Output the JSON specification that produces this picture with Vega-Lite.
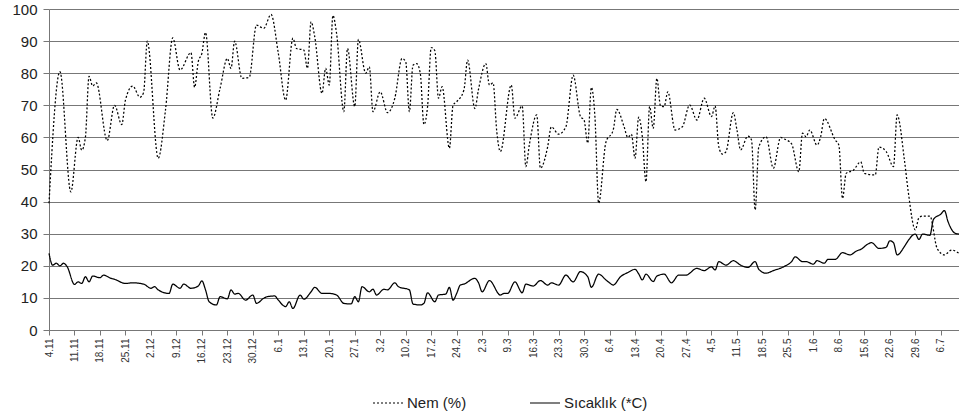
{
"$schema": "https://vega.github.io/schema/vega-lite/v6.json",
"width": 910, "height": 321,
"autosize": {"type": "none"},
"padding": {"left": 49, "top": 9, "right": 0, "bottom": 84},
"background": "white",
"config": {"view": {"stroke": null}, "font": "Liberation Sans"},
"data": {"values": [
{"s":"Nem (%)","d":"2007-11-04","v":39.5},{"s":"Nem (%)","d":"2007-11-07","v":80.5},{"s":"Nem (%)","d":"2007-11-10","v":43},{"s":"Nem (%)","d":"2007-11-12","v":60},{"s":"Nem (%)","d":"2007-11-13","v":56},{"s":"Nem (%)","d":"2007-11-14","v":60},{"s":"Nem (%)","d":"2007-11-15","v":79},{"s":"Nem (%)","d":"2007-11-16","v":76},{"s":"Nem (%)","d":"2007-11-17","v":77},{"s":"Nem (%)","d":"2007-11-20","v":59},{"s":"Nem (%)","d":"2007-11-22","v":70},{"s":"Nem (%)","d":"2007-11-24","v":64},{"s":"Nem (%)","d":"2007-11-25","v":71.6},{"s":"Nem (%)","d":"2007-11-27","v":76},{"s":"Nem (%)","d":"2007-11-29","v":72.5},{"s":"Nem (%)","d":"2007-11-30","v":74},
{"s":"Nem (%)","d":"2007-12-01","v":90},{"s":"Nem (%)","d":"2007-12-04","v":53.5},{"s":"Nem (%)","d":"2007-12-06","v":68.5},{"s":"Nem (%)","d":"2007-12-08","v":91},{"s":"Nem (%)","d":"2007-12-10","v":81},{"s":"Nem (%)","d":"2007-12-13","v":86.4},{"s":"Nem (%)","d":"2007-12-14","v":75.6},{"s":"Nem (%)","d":"2007-12-15","v":83.6},{"s":"Nem (%)","d":"2007-12-16","v":86.2},{"s":"Nem (%)","d":"2007-12-17","v":92.7},{"s":"Nem (%)","d":"2007-12-19","v":66},{"s":"Nem (%)","d":"2007-12-21","v":75.3},{"s":"Nem (%)","d":"2007-12-23","v":84.6},{"s":"Nem (%)","d":"2007-12-24","v":81.5},{"s":"Nem (%)","d":"2007-12-25","v":90},{"s":"Nem (%)","d":"2007-12-27","v":78.4},{"s":"Nem (%)","d":"2007-12-29","v":78.7},{"s":"Nem (%)","d":"2007-12-31","v":95},
{"s":"Nem (%)","d":"2008-01-02","v":94},{"s":"Nem (%)","d":"2008-01-04","v":98.3},{"s":"Nem (%)","d":"2008-01-06","v":86.2},{"s":"Nem (%)","d":"2008-01-08","v":71.6},{"s":"Nem (%)","d":"2008-01-10","v":90.9},{"s":"Nem (%)","d":"2008-01-11","v":87.7},{"s":"Nem (%)","d":"2008-01-13","v":87.2},{"s":"Nem (%)","d":"2008-01-14","v":81.5},{"s":"Nem (%)","d":"2008-01-15","v":96},{"s":"Nem (%)","d":"2008-01-16","v":91.4},{"s":"Nem (%)","d":"2008-01-18","v":73.7},{"s":"Nem (%)","d":"2008-01-19","v":81.5},{"s":"Nem (%)","d":"2008-01-20","v":76.3},{"s":"Nem (%)","d":"2008-01-21","v":98},{"s":"Nem (%)","d":"2008-01-22","v":92.4},{"s":"Nem (%)","d":"2008-01-24","v":68},{"s":"Nem (%)","d":"2008-01-25","v":87.7},{"s":"Nem (%)","d":"2008-01-27","v":69.6},{"s":"Nem (%)","d":"2008-01-28","v":90.5},{"s":"Nem (%)","d":"2008-01-30","v":80},{"s":"Nem (%)","d":"2008-01-31","v":82},
{"s":"Nem (%)","d":"2008-02-01","v":68},{"s":"Nem (%)","d":"2008-02-03","v":74.2},{"s":"Nem (%)","d":"2008-02-05","v":67.7},{"s":"Nem (%)","d":"2008-02-07","v":72.2},{"s":"Nem (%)","d":"2008-02-09","v":84.6},{"s":"Nem (%)","d":"2008-02-10","v":83.6},{"s":"Nem (%)","d":"2008-02-11","v":68},{"s":"Nem (%)","d":"2008-02-12","v":82.5},{"s":"Nem (%)","d":"2008-02-13","v":83},{"s":"Nem (%)","d":"2008-02-14","v":80},{"s":"Nem (%)","d":"2008-02-15","v":64},{"s":"Nem (%)","d":"2008-02-16","v":69.6},{"s":"Nem (%)","d":"2008-02-17","v":88},{"s":"Nem (%)","d":"2008-02-18","v":87},{"s":"Nem (%)","d":"2008-02-19","v":72.2},{"s":"Nem (%)","d":"2008-02-20","v":75.8},{"s":"Nem (%)","d":"2008-02-22","v":56.6},{"s":"Nem (%)","d":"2008-02-23","v":70},{"s":"Nem (%)","d":"2008-02-24","v":71.1},{"s":"Nem (%)","d":"2008-02-26","v":74.8},{"s":"Nem (%)","d":"2008-02-27","v":84.1},{"s":"Nem (%)","d":"2008-02-29","v":69},
{"s":"Nem (%)","d":"2008-03-01","v":75},{"s":"Nem (%)","d":"2008-03-03","v":83},{"s":"Nem (%)","d":"2008-03-04","v":76.3},{"s":"Nem (%)","d":"2008-03-05","v":77},{"s":"Nem (%)","d":"2008-03-06","v":62},{"s":"Nem (%)","d":"2008-03-07","v":55.6},{"s":"Nem (%)","d":"2008-03-10","v":76.3},{"s":"Nem (%)","d":"2008-03-11","v":66},{"s":"Nem (%)","d":"2008-03-13","v":69.8},{"s":"Nem (%)","d":"2008-03-14","v":50.9},{"s":"Nem (%)","d":"2008-03-15","v":58},{"s":"Nem (%)","d":"2008-03-17","v":67},{"s":"Nem (%)","d":"2008-03-18","v":50.4},{"s":"Nem (%)","d":"2008-03-20","v":57.1},{"s":"Nem (%)","d":"2008-03-21","v":63.3},{"s":"Nem (%)","d":"2008-03-23","v":61},{"s":"Nem (%)","d":"2008-03-25","v":63.3},{"s":"Nem (%)","d":"2008-03-27","v":79.4},{"s":"Nem (%)","d":"2008-03-29","v":66.5},{"s":"Nem (%)","d":"2008-03-30","v":65.4},{"s":"Nem (%)","d":"2008-03-31","v":58.2},
{"s":"Nem (%)","d":"2008-04-01","v":75.6},{"s":"Nem (%)","d":"2008-04-02","v":66},{"s":"Nem (%)","d":"2008-04-03","v":39.5},{"s":"Nem (%)","d":"2008-04-05","v":58.5},{"s":"Nem (%)","d":"2008-04-07","v":62.3},{"s":"Nem (%)","d":"2008-04-08","v":68.7},{"s":"Nem (%)","d":"2008-04-10","v":63.3},{"s":"Nem (%)","d":"2008-04-11","v":60},{"s":"Nem (%)","d":"2008-04-12","v":61},{"s":"Nem (%)","d":"2008-04-13","v":53.5},{"s":"Nem (%)","d":"2008-04-14","v":66.3},{"s":"Nem (%)","d":"2008-04-15","v":60.2},{"s":"Nem (%)","d":"2008-04-16","v":46.2},{"s":"Nem (%)","d":"2008-04-17","v":69.6},{"s":"Nem (%)","d":"2008-04-18","v":62.8},{"s":"Nem (%)","d":"2008-04-19","v":78.4},{"s":"Nem (%)","d":"2008-04-20","v":69.8},{"s":"Nem (%)","d":"2008-04-21","v":69.6},{"s":"Nem (%)","d":"2008-04-22","v":74.2},{"s":"Nem (%)","d":"2008-04-24","v":62.3},{"s":"Nem (%)","d":"2008-04-26","v":63.3},{"s":"Nem (%)","d":"2008-04-28","v":70.1},{"s":"Nem (%)","d":"2008-04-30","v":65.4},
{"s":"Nem (%)","d":"2008-05-02","v":72.2},{"s":"Nem (%)","d":"2008-05-04","v":66.5},{"s":"Nem (%)","d":"2008-05-05","v":69.8},{"s":"Nem (%)","d":"2008-05-06","v":57.1},{"s":"Nem (%)","d":"2008-05-07","v":54.8},{"s":"Nem (%)","d":"2008-05-08","v":55.6},{"s":"Nem (%)","d":"2008-05-10","v":67.7},{"s":"Nem (%)","d":"2008-05-11","v":62.3},{"s":"Nem (%)","d":"2008-05-12","v":56.1},{"s":"Nem (%)","d":"2008-05-14","v":60.4},{"s":"Nem (%)","d":"2008-05-15","v":59.2},{"s":"Nem (%)","d":"2008-05-16","v":37.4},{"s":"Nem (%)","d":"2008-05-17","v":57.1},{"s":"Nem (%)","d":"2008-05-19","v":60.2},{"s":"Nem (%)","d":"2008-05-21","v":50.4},{"s":"Nem (%)","d":"2008-05-23","v":60},{"s":"Nem (%)","d":"2008-05-24","v":59.5},{"s":"Nem (%)","d":"2008-05-26","v":58},{"s":"Nem (%)","d":"2008-05-28","v":49.3},{"s":"Nem (%)","d":"2008-05-29","v":61.3},{"s":"Nem (%)","d":"2008-05-30","v":60.2},{"s":"Nem (%)","d":"2008-05-31","v":62.3},
{"s":"Nem (%)","d":"2008-06-02","v":57.6},{"s":"Nem (%)","d":"2008-06-03","v":60.2},{"s":"Nem (%)","d":"2008-06-04","v":65.9},{"s":"Nem (%)","d":"2008-06-07","v":59.2},{"s":"Nem (%)","d":"2008-06-08","v":57.6},{"s":"Nem (%)","d":"2008-06-09","v":41},{"s":"Nem (%)","d":"2008-06-10","v":48.8},{"s":"Nem (%)","d":"2008-06-12","v":49.8},{"s":"Nem (%)","d":"2008-06-14","v":52.4},{"s":"Nem (%)","d":"2008-06-15","v":48.8},{"s":"Nem (%)","d":"2008-06-18","v":48.3},{"s":"Nem (%)","d":"2008-06-19","v":57},{"s":"Nem (%)","d":"2008-06-21","v":55.6},{"s":"Nem (%)","d":"2008-06-23","v":50.9},{"s":"Nem (%)","d":"2008-06-24","v":67},{"s":"Nem (%)","d":"2008-06-26","v":53},{"s":"Nem (%)","d":"2008-06-27","v":43.6},{"s":"Nem (%)","d":"2008-06-29","v":31.2},{"s":"Nem (%)","d":"2008-06-30","v":35},
{"s":"Nem (%)","d":"2008-07-01","v":35.5},{"s":"Nem (%)","d":"2008-07-03","v":35.5},{"s":"Nem (%)","d":"2008-07-05","v":25.4},{"s":"Nem (%)","d":"2008-07-07","v":23.4},{"s":"Nem (%)","d":"2008-07-09","v":24.9},{"s":"Nem (%)","d":"2008-07-11","v":23.9},
{"s":"Sıcaklık (*C)","d":"2007-11-04","v":23.9},{"s":"Sıcaklık (*C)","d":"2007-11-05","v":20.2},{"s":"Sıcaklık (*C)","d":"2007-11-06","v":20.8},{"s":"Sıcaklık (*C)","d":"2007-11-07","v":20},{"s":"Sıcaklık (*C)","d":"2007-11-08","v":20.8},{"s":"Sıcaklık (*C)","d":"2007-11-09","v":19.7},{"s":"Sıcaklık (*C)","d":"2007-11-11","v":14.2},{"s":"Sıcaklık (*C)","d":"2007-11-12","v":15},{"s":"Sıcaklık (*C)","d":"2007-11-13","v":14.5},{"s":"Sıcaklık (*C)","d":"2007-11-14","v":16.6},{"s":"Sıcaklık (*C)","d":"2007-11-15","v":15},{"s":"Sıcaklık (*C)","d":"2007-11-16","v":16.8},{"s":"Sıcaklık (*C)","d":"2007-11-18","v":16.3},{"s":"Sıcaklık (*C)","d":"2007-11-19","v":17.1},{"s":"Sıcaklık (*C)","d":"2007-11-21","v":16.1},{"s":"Sıcaklık (*C)","d":"2007-11-22","v":15.8},{"s":"Sıcaklık (*C)","d":"2007-11-25","v":14.5},{"s":"Sıcaklık (*C)","d":"2007-11-27","v":14.7},{"s":"Sıcaklık (*C)","d":"2007-11-30","v":14.3},
{"s":"Sıcaklık (*C)","d":"2007-12-02","v":13},{"s":"Sıcaklık (*C)","d":"2007-12-03","v":13.5},{"s":"Sıcaklık (*C)","d":"2007-12-04","v":12.5},{"s":"Sıcaklık (*C)","d":"2007-12-07","v":11.4},{"s":"Sıcaklık (*C)","d":"2007-12-08","v":14.3},{"s":"Sıcaklık (*C)","d":"2007-12-10","v":13},{"s":"Sıcaklık (*C)","d":"2007-12-11","v":14.3},{"s":"Sıcaklık (*C)","d":"2007-12-13","v":13},{"s":"Sıcaklık (*C)","d":"2007-12-15","v":13.7},{"s":"Sıcaklık (*C)","d":"2007-12-16","v":15.3},{"s":"Sıcaklık (*C)","d":"2007-12-17","v":12.5},{"s":"Sıcaklık (*C)","d":"2007-12-18","v":8.8},{"s":"Sıcaklık (*C)","d":"2007-12-20","v":7.8},{"s":"Sıcaklık (*C)","d":"2007-12-21","v":10.4},{"s":"Sıcaklık (*C)","d":"2007-12-23","v":9.7},{"s":"Sıcaklık (*C)","d":"2007-12-24","v":12.5},{"s":"Sıcaklık (*C)","d":"2007-12-25","v":11.2},{"s":"Sıcaklık (*C)","d":"2007-12-26","v":11.4},{"s":"Sıcaklık (*C)","d":"2007-12-28","v":9.3},{"s":"Sıcaklık (*C)","d":"2007-12-30","v":10.9},{"s":"Sıcaklık (*C)","d":"2007-12-31","v":8.3},
{"s":"Sıcaklık (*C)","d":"2008-01-02","v":9.9},{"s":"Sıcaklık (*C)","d":"2008-01-03","v":10.4},{"s":"Sıcaklık (*C)","d":"2008-01-05","v":10.6},{"s":"Sıcaklık (*C)","d":"2008-01-06","v":9.3},{"s":"Sıcaklık (*C)","d":"2008-01-08","v":7.3},{"s":"Sıcaklık (*C)","d":"2008-01-09","v":8.8},{"s":"Sıcaklık (*C)","d":"2008-01-10","v":6.7},{"s":"Sıcaklık (*C)","d":"2008-01-12","v":10.9},{"s":"Sıcaklık (*C)","d":"2008-01-13","v":9.6},{"s":"Sıcaklık (*C)","d":"2008-01-15","v":11.9},{"s":"Sıcaklık (*C)","d":"2008-01-16","v":13.3},{"s":"Sıcaklık (*C)","d":"2008-01-18","v":11.4},{"s":"Sıcaklık (*C)","d":"2008-01-20","v":11.4},{"s":"Sıcaklık (*C)","d":"2008-01-22","v":10.9},{"s":"Sıcaklık (*C)","d":"2008-01-24","v":8.3},{"s":"Sıcaklık (*C)","d":"2008-01-26","v":8.1},{"s":"Sıcaklık (*C)","d":"2008-01-27","v":10.4},{"s":"Sıcaklık (*C)","d":"2008-01-28","v":8.8},{"s":"Sıcaklık (*C)","d":"2008-01-29","v":13.5},{"s":"Sıcaklık (*C)","d":"2008-01-31","v":11.9},
{"s":"Sıcaklık (*C)","d":"2008-02-01","v":12.7},{"s":"Sıcaklık (*C)","d":"2008-02-02","v":10.9},{"s":"Sıcaklık (*C)","d":"2008-02-04","v":12.7},{"s":"Sıcaklık (*C)","d":"2008-02-05","v":12.5},{"s":"Sıcaklık (*C)","d":"2008-02-07","v":14.7},{"s":"Sıcaklık (*C)","d":"2008-02-08","v":13.5},{"s":"Sıcaklık (*C)","d":"2008-02-11","v":12.5},{"s":"Sıcaklık (*C)","d":"2008-02-12","v":8.1},{"s":"Sıcaklık (*C)","d":"2008-02-14","v":7.8},{"s":"Sıcaklık (*C)","d":"2008-02-15","v":8.3},{"s":"Sıcaklık (*C)","d":"2008-02-16","v":11.6},{"s":"Sıcaklık (*C)","d":"2008-02-18","v":8.8},{"s":"Sıcaklık (*C)","d":"2008-02-19","v":10.9},{"s":"Sıcaklık (*C)","d":"2008-02-21","v":11.2},{"s":"Sıcaklık (*C)","d":"2008-02-22","v":13.3},{"s":"Sıcaklık (*C)","d":"2008-02-23","v":9.3},{"s":"Sıcaklık (*C)","d":"2008-02-24","v":11.4},{"s":"Sıcaklık (*C)","d":"2008-02-25","v":14},{"s":"Sıcaklık (*C)","d":"2008-02-26","v":14.3},{"s":"Sıcaklık (*C)","d":"2008-02-29","v":16.1},
{"s":"Sıcaklık (*C)","d":"2008-03-01","v":14.7},{"s":"Sıcaklık (*C)","d":"2008-03-02","v":11.9},{"s":"Sıcaklık (*C)","d":"2008-03-04","v":15.4},{"s":"Sıcaklık (*C)","d":"2008-03-07","v":10.9},{"s":"Sıcaklık (*C)","d":"2008-03-08","v":11.4},{"s":"Sıcaklık (*C)","d":"2008-03-09","v":11.4},{"s":"Sıcaklık (*C)","d":"2008-03-11","v":15},{"s":"Sıcaklık (*C)","d":"2008-03-13","v":11.6},{"s":"Sıcaklık (*C)","d":"2008-03-14","v":14.3},{"s":"Sıcaklık (*C)","d":"2008-03-16","v":13.7},{"s":"Sıcaklık (*C)","d":"2008-03-18","v":15.4},{"s":"Sıcaklık (*C)","d":"2008-03-20","v":14},{"s":"Sıcaklık (*C)","d":"2008-03-21","v":14.7},{"s":"Sıcaklık (*C)","d":"2008-03-23","v":14},{"s":"Sıcaklık (*C)","d":"2008-03-25","v":17.1},{"s":"Sıcaklık (*C)","d":"2008-03-27","v":15},{"s":"Sıcaklık (*C)","d":"2008-03-29","v":18.2},{"s":"Sıcaklık (*C)","d":"2008-03-31","v":16.6},
{"s":"Sıcaklık (*C)","d":"2008-04-01","v":13.3},{"s":"Sıcaklık (*C)","d":"2008-04-03","v":17.4},{"s":"Sıcaklık (*C)","d":"2008-04-05","v":15.6},{"s":"Sıcaklık (*C)","d":"2008-04-06","v":14.7},{"s":"Sıcaklık (*C)","d":"2008-04-07","v":14},{"s":"Sıcaklık (*C)","d":"2008-04-09","v":16.6},{"s":"Sıcaklık (*C)","d":"2008-04-11","v":17.9},{"s":"Sıcaklık (*C)","d":"2008-04-13","v":18.9},{"s":"Sıcaklık (*C)","d":"2008-04-14","v":17.5},{"s":"Sıcaklık (*C)","d":"2008-04-15","v":15.6},{"s":"Sıcaklık (*C)","d":"2008-04-16","v":17.4},{"s":"Sıcaklık (*C)","d":"2008-04-18","v":15.1},{"s":"Sıcaklık (*C)","d":"2008-04-19","v":16.8},{"s":"Sıcaklık (*C)","d":"2008-04-21","v":17.4},{"s":"Sıcaklık (*C)","d":"2008-04-23","v":14.7},{"s":"Sıcaklık (*C)","d":"2008-04-25","v":17.1},{"s":"Sıcaklık (*C)","d":"2008-04-27","v":17.1},{"s":"Sıcaklık (*C)","d":"2008-04-30","v":19.2},
{"s":"Sıcaklık (*C)","d":"2008-05-02","v":18.5},{"s":"Sıcaklık (*C)","d":"2008-05-04","v":19.7},{"s":"Sıcaklık (*C)","d":"2008-05-05","v":18.7},{"s":"Sıcaklık (*C)","d":"2008-05-06","v":21.3},{"s":"Sıcaklık (*C)","d":"2008-05-08","v":20.2},{"s":"Sıcaklık (*C)","d":"2008-05-10","v":21.6},{"s":"Sıcaklık (*C)","d":"2008-05-12","v":20.2},{"s":"Sıcaklık (*C)","d":"2008-05-14","v":19.5},{"s":"Sıcaklık (*C)","d":"2008-05-16","v":21.3},{"s":"Sıcaklık (*C)","d":"2008-05-17","v":18.9},{"s":"Sıcaklık (*C)","d":"2008-05-19","v":17.7},{"s":"Sıcaklık (*C)","d":"2008-05-21","v":18.5},{"s":"Sıcaklık (*C)","d":"2008-05-24","v":19.8},{"s":"Sıcaklık (*C)","d":"2008-05-26","v":21.3},{"s":"Sıcaklık (*C)","d":"2008-05-27","v":22.8},{"s":"Sıcaklık (*C)","d":"2008-05-29","v":21.3},{"s":"Sıcaklık (*C)","d":"2008-05-30","v":21.3},
{"s":"Sıcaklık (*C)","d":"2008-06-01","v":20.5},{"s":"Sıcaklık (*C)","d":"2008-06-02","v":21.6},{"s":"Sıcaklık (*C)","d":"2008-06-04","v":20.8},{"s":"Sıcaklık (*C)","d":"2008-06-05","v":22},{"s":"Sıcaklık (*C)","d":"2008-06-07","v":22},{"s":"Sıcaklık (*C)","d":"2008-06-09","v":24.1},{"s":"Sıcaklık (*C)","d":"2008-06-11","v":23.4},{"s":"Sıcaklık (*C)","d":"2008-06-13","v":24.7},{"s":"Sıcaklık (*C)","d":"2008-06-14","v":25.1},{"s":"Sıcaklık (*C)","d":"2008-06-16","v":26.8},{"s":"Sıcaklık (*C)","d":"2008-06-17","v":27.2},{"s":"Sıcaklık (*C)","d":"2008-06-19","v":25.4},{"s":"Sıcaklık (*C)","d":"2008-06-21","v":25.8},{"s":"Sıcaklık (*C)","d":"2008-06-22","v":27.8},{"s":"Sıcaklık (*C)","d":"2008-06-23","v":27.2},{"s":"Sıcaklık (*C)","d":"2008-06-24","v":23.4},{"s":"Sıcaklık (*C)","d":"2008-06-26","v":26},{"s":"Sıcaklık (*C)","d":"2008-06-27","v":27.8},{"s":"Sıcaklık (*C)","d":"2008-06-29","v":29.9},{"s":"Sıcaklık (*C)","d":"2008-06-30","v":28.2},
{"s":"Sıcaklık (*C)","d":"2008-07-01","v":29.9},{"s":"Sıcaklık (*C)","d":"2008-07-03","v":29.5},{"s":"Sıcaklık (*C)","d":"2008-07-04","v":34.5},{"s":"Sıcaklık (*C)","d":"2008-07-06","v":36.1},{"s":"Sıcaklık (*C)","d":"2008-07-07","v":37.2},{"s":"Sıcaklık (*C)","d":"2008-07-08","v":33.7},{"s":"Sıcaklık (*C)","d":"2008-07-10","v":30.1},{"s":"Sıcaklık (*C)","d":"2008-07-11","v":29.9}
]},
"mark": {"type": "line", "interpolate": "monotone", "color": "black", "strokeWidth": 1.25},
"encoding": {
"x": {"field": "d", "type": "temporal",
"scale": {"type": "utc", "domain": [{"year": 2007, "month": 11, "date": 4, "utc": true}, {"year": 2008, "month": 7, "date": 11, "utc": true}]},
"axis": {"title": null, "format": "%-d.%-m", "labelAngle": -90, "tickCount": {"interval": "week", "step": 1}, "grid": false, "domainColor": "#777777", "tickColor": "#777777", "tickSize": 5, "labelFontSize": 10, "labelColor": "#333333", "labelPadding": 3, "labelOverlap": false, "labelBound": false, "labelFlush": false}},
"y": {"field": "v", "type": "quantitative",
"scale": {"domain": [0, 100], "nice": false},
"axis": {"title": null, "values": [0,10,20,30,40,50,60,70,80,90,100], "grid": true, "gridColor": "#777777", "gridWidth": 1, "domainColor": "#777777", "tickColor": "#777777", "tickSize": 6, "labelFontSize": 15, "labelColor": "#222222", "labelPadding": 6}},
"strokeDash": {"field": "s", "type": "nominal",
"scale": {"domain": ["Nem (%)", "Sıcaklık (*C)"], "range": [[2, 2], [1, 0]]},
"legend": {"title": null, "orient": "none", "direction": "horizontal", "legendX": 323, "legendY": 378, "symbolType": "stroke", "symbolSize": 900, "symbolStrokeWidth": 1.2, "symbolStrokeColor": "black", "labelFontSize": 15, "labelColor": "#222222", "labelOffset": 3, "columnPadding": 60, "padding": 0}}
}
}
